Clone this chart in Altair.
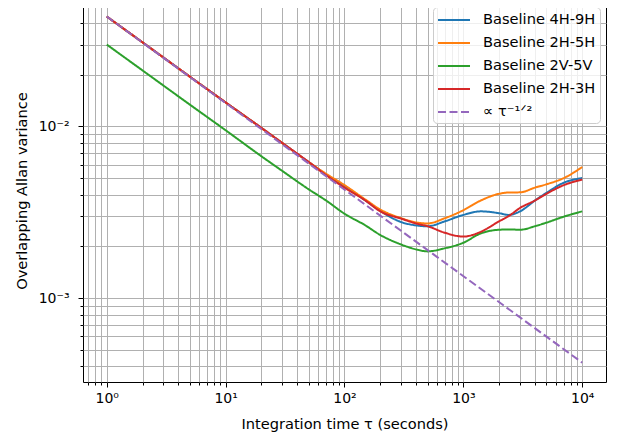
import altair as alt
import pandas as pd

# ---- data ----
tau = [1, 2, 5, 10, 20, 30, 50, 70, 100, 150, 200, 300, 400, 500, 700,
       1000, 1400, 2000, 2400, 3000, 4000, 5000, 7000, 10000]

b_4h9h = [0.0437, 0.0309, 0.0195, 0.0138, 0.0098, 0.0080, 0.0062, 0.00525, 0.0045, 0.0037,
          0.00322, 0.00277, 0.00265, 0.00262, 0.0028, 0.00305, 0.0032, 0.00312, 0.00305, 0.0032,
          0.0037, 0.0041, 0.0047, 0.0050]
b_2h5h = [0.0437, 0.0309, 0.0195, 0.0138, 0.0098, 0.0080, 0.0062, 0.0053, 0.00455, 0.00375,
          0.00328, 0.00292, 0.00276, 0.00272, 0.00292, 0.00325, 0.0037, 0.00405, 0.00412, 0.00413,
          0.0044, 0.0046, 0.0050, 0.0058]
b_2v5v = [0.0300, 0.0212, 0.0134, 0.0095, 0.0067, 0.0055, 0.0043, 0.0037, 0.0031, 0.00265,
          0.00233, 0.00205, 0.00192, 0.00187, 0.00195, 0.0021, 0.00238, 0.0025, 0.00251, 0.0025,
          0.00262, 0.00275, 0.00298, 0.0032]
b_2h3h = [0.0437, 0.0309, 0.0195, 0.0138, 0.0098, 0.0080, 0.0062, 0.0052, 0.0044, 0.0037,
          0.0032, 0.0029, 0.00272, 0.00262, 0.0024, 0.00228, 0.00243, 0.0028, 0.0030, 0.00335,
          0.0037, 0.00405, 0.00455, 0.0049]

ref_tau = [1, 10000]
ref_val = [0.0437, 0.00042]

series_names = ["Baseline 4H-9H", "Baseline 2H-5H", "Baseline 2V-5V", "Baseline 2H-3H"]
ref_name = "∝ τ⁻¹ᐟ²"
colors = ["#1f77b4", "#ff7f0e", "#2ca02c", "#d62728", "#9467bd"]
dashes = [[1, 0], [1, 0], [1, 0], [1, 0], [8, 3.5]]

x_domain = [0.631, 15849]
y_domain = [3.24e-4, 0.0553]

x_ticks = [m * 10.0 ** k for k in range(-1, 5) for m in range(1, 10)
           if x_domain[0] <= m * 10.0 ** k <= x_domain[1]]
y_ticks = [m * 10.0 ** k for k in range(-4, -1) for m in range(1, 10)
           if y_domain[0] <= m * 10.0 ** k <= y_domain[1]]

rows = []
for name, vals in zip(series_names, [b_4h9h, b_2h5h, b_2v5v, b_2h3h]):
    for t, v in zip(tau, vals):
        rows.append({"series": name, "tau": t, "value": v})
for t, v in zip(ref_tau, ref_val):
    rows.append({"series": ref_name, "tau": t, "value": v})
df = pd.DataFrame(rows)

domain_all = series_names + [ref_name]
is_major = "abs(log(datum.value)/LN10 - round(log(datum.value)/LN10)) < 0.001"

x_enc = alt.X(
    "tau:Q",
    scale=alt.Scale(type="log", domain=x_domain, nice=False),
    axis=alt.Axis(
        title="Integration time τ (seconds)",
        values=x_ticks,
        labelExpr="datum.value == 1 ? '10⁰' : datum.value == 10 ? '10¹' : datum.value == 100 ? '10²' : datum.value == 1000 ? '10³' : datum.value == 10000 ? '10⁴' : ''",
        labelOverlap=False,
        labelFlush=False,
        tickSize={"condition": {"test": is_major, "value": 5}, "value": 3},
        labelPadding=4,
        titlePadding=11,
    ),
)
y_enc = alt.Y(
    "value:Q",
    scale=alt.Scale(type="log", domain=y_domain, nice=False),
    axis=alt.Axis(
        title="Overlapping Allan variance",
        values=y_ticks,
        labelExpr="abs(datum.value - 0.01) < 1e-9 ? '10⁻²' : abs(datum.value - 0.001) < 1e-10 ? '10⁻³' : ''",
        labelOverlap=False,
        labelFlush=False,
        tickSize={"condition": {"test": is_major, "value": 5}, "value": 3},
        labelPadding=9,
        titlePadding=9,
    ),
)
color_enc = alt.Color(
    "series:N",
    scale=alt.Scale(domain=domain_all, range=colors),
    legend=alt.Legend(title=None),
)
dash_enc = alt.StrokeDash(
    "series:N",
    scale=alt.Scale(domain=domain_all, range=dashes),
    legend=alt.Legend(title=None),
)

base = alt.Chart(df)
layers = []
for name in domain_all:
    layers.append(
        base.transform_filter(alt.datum.series == name)
        .mark_line(strokeWidth=2, interpolate="monotone", clip=True)
        .encode(x=x_enc, y=y_enc, color=color_enc, strokeDash=dash_enc)
    )

chart = (
    alt.layer(*layers)
    .properties(
        width=523,
        height=383,
        autosize=alt.AutoSizeParams(type="none"),
        padding={"left": 75, "top": -9, "right": 6, "bottom": 52},
    )
    .configure(font="DejaVu Sans")
    .configure_view(stroke="black", strokeWidth=1)
    .configure_axis(
        domain=False,
        grid=True,
        gridColor="#b0b0b0",
        gridWidth=1,
        tickColor="black",
        tickWidth=1,
        labelFont="DejaVu Sans",
        labelFontSize=14,
        labelColor="black",
        titleFont="DejaVu Sans",
        titleFontSize=14.6,
        titleFontWeight="normal",
        titleColor="black",
    )
    .configure_legend(
        orient="none",
        legendX=350,
        legendY=8,
        fillColor="rgba(255,255,255,0.8)",
        strokeColor="#cccccc",
        cornerRadius=4,
        padding=4,
        labelFont="DejaVu Sans",
        labelFontSize=14.6,
        labelColor="black",
        symbolType="M-1,0H3",
        symbolSize=256,
        symbolStrokeWidth=2,
        labelOffset=28,
        rowPadding=7,
    )
)

chart.save("out.html", embed_options={"renderer": "svg", "actions": False})
